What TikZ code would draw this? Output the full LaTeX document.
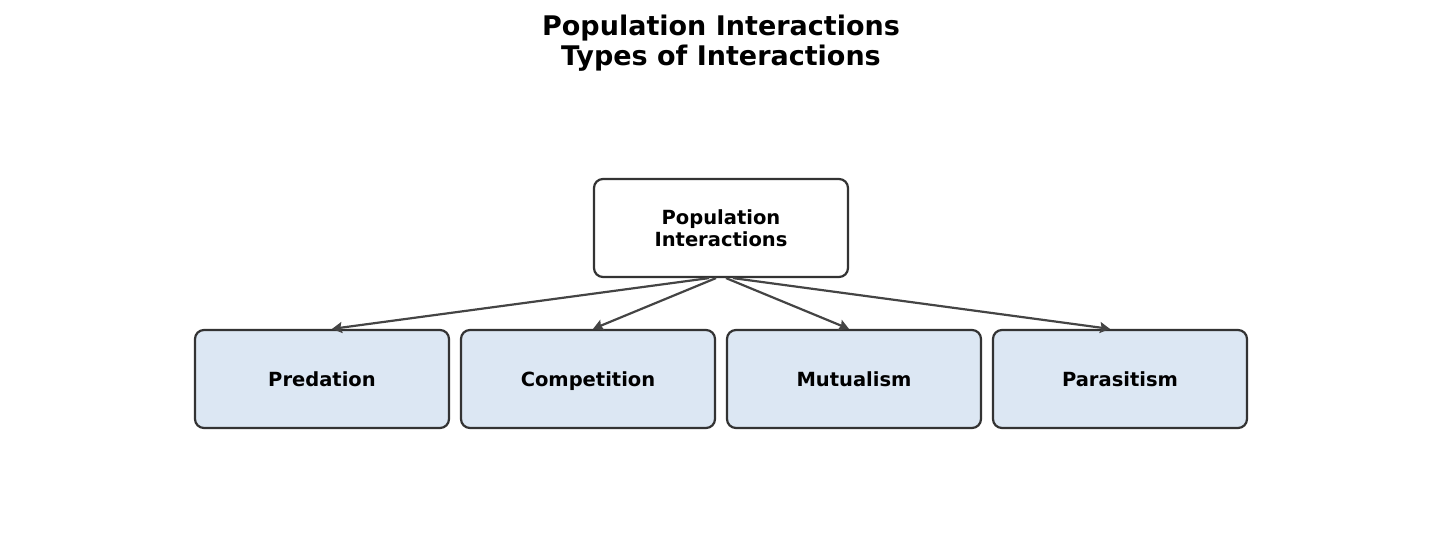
\documentclass[tikz,border=0pt]{standalone}
\usepackage{fontspec}
\setmainfont{DejaVu Sans}
\usetikzlibrary{arrows.meta}
\definecolor{boxline}{HTML}{333333}
\definecolor{edgecol}{HTML}{444444}
\definecolor{childfill}{HTML}{DCE7F3}
\begin{document}
\begin{tikzpicture}[x=1pt,y=1pt,
  box/.style={draw=boxline,line width=2.2pt,rounded corners=9pt,minimum width=254pt,minimum height=98pt,inner sep=0pt,align=center,font=\fontsize{19.5}{22}\selectfont\bfseries},
  childbox/.style={box,fill=childfill,text height=17pt,text depth=3pt},
  edge/.style={draw=edgecol,line width=2.2pt,-{Stealth[length=10pt,width=11pt,inset=1.5pt]}}]
\useasboundingbox (0,0) rectangle (1441,-546);
\node[align=center,font=\fontsize{27}{30}\selectfont\bfseries] (title) at (721,-43) {Population Interactions\\Types of Interactions};
\node[box,fill=white] (root) at (721,-228) {Population\\Interactions};
\node[childbox] (pred) at (322,-379) {Predation};
\node[childbox] (comp) at (588,-379) {Competition};
\node[childbox] (mutu) at (854,-379) {Mutualism};
\node[childbox] (para) at (1120,-379) {Parasitism};
\draw[edge] ([xshift=-12pt]root.south) -- ([xshift=10pt]pred.north);
\draw[edge] ([xshift=-5pt]root.south) -- ([xshift=5pt]comp.north);
\draw[edge] ([xshift=5pt]root.south) -- ([xshift=-5pt]mutu.north);
\draw[edge] ([xshift=12pt]root.south) -- ([xshift=-10pt]para.north);
\end{tikzpicture}
\end{document}
